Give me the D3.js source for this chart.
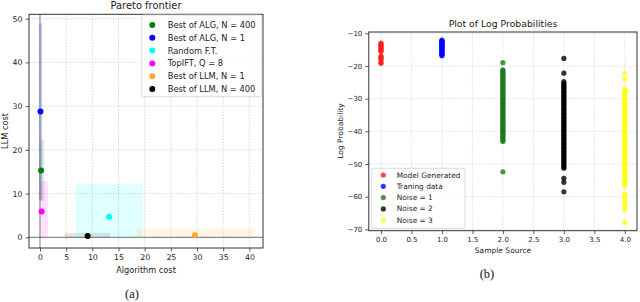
<!DOCTYPE html>
<html>
<head>
<meta charset="utf-8">
<script src="https://cdn.jsdelivr.net/npm/d3@7"></script>
<style>
  body { margin: 0; background: #fff; }
  svg { display: block; font-family: "DejaVu Sans", sans-serif; }
</style>
</head>
<body>
<svg id="chart" width="640" height="302"></svg>
<script>
// ---- (a) Pareto frontier ----
const paretoLabels = ["Best of ALG, N = 400", "Best of ALG, N = 1", "Random F.T.", "TopIFT, Q = 8", "Best of LLM, N = 1", "Best of LLM, N = 400"];
const paretoColors = ["#008000", "#0000ff", "#00ffff", "#ff00ff", "#ffa533", "#000000"];
const algCost = [0.2, 0.1, 13.2, 0.3, 29.6, 9.1];
const llmCost = [15.3, 28.8, 4.7, 5.9, 0.5, 0.3];
const algLo = [-0.2, -0.2, 6.8, -0.1, 18.4, 4.7];
const algHi = [0.8, 0.4, 19.6, 1.5, 41.0, 13.4];
const llmLo = [8.3, 8.5, 0, 0, 0, -0.2];
const llmHi = [22.4, 48.9, 12.3, 12.9, 2.05, 1.05];
const rectAlpha = [0.15, 0.22, 0.12, 0.12, 0.12, 0.1];
const paretoXTicks = [0, 5, 10, 15, 20, 25, 30, 35, 40];
const paretoYTicks = [0, 10, 20, 30, 40, 50];

// ---- (b) Log probabilities ----
const sourceLabels = ["Model Generated", "Traning data", "Noise = 1", "Noise = 2", "Noise = 3"];
const sourceColors = ["#ff1a1a", "#0000ff", "#1a7a1a", "#000000", "#ffff1a"];
const modelGenerated = [-13.0, -13.3, -13.6, -13.9, -14.2, -14.5, -14.9, -15.3, -15.6, -17.0, -17.3, -17.7, -18.1, -18.9, -19.2];
const trainingData = [-12.1, -12.3, -12.5, -12.8, -13.0, -13.2, -13.5, -13.7, -13.9, -14.2, -14.4, -14.6, -14.9, -15.1, -15.4, -15.6, -15.9, -16.1, -16.4, -16.6, -16.9];
const noise1 = [-19.0, -21.2, -21.6, -22.0, -22.3, -22.7, -23.1, -23.4, -23.8, -24.3, -24.6, -25.0, -25.4, -25.7, -26.1, -26.6, -26.9, -27.3, -27.7, -28.0, -28.5, -28.8, -29.2, -29.6, -30.0, -30.3, -30.8, -31.1, -31.5, -31.9, -32.2, -32.6, -33.0, -33.4, -33.8, -34.1, -34.5, -34.9, -35.3, -35.6, -36.0, -36.5, -36.8, -37.2, -37.6, -38.0, -38.3, -38.7, -39.1, -39.5, -39.8, -40.2, -40.6, -41.0, -41.4, -41.8, -42.3, -42.7, -43.1, -52.4];
const noise2 = [-17.7, -22.2, -24.8, -25.3, -25.7, -26.2, -26.6, -27.0, -27.5, -27.9, -28.3, -28.8, -29.2, -29.6, -30.1, -30.5, -30.9, -31.4, -31.8, -32.2, -32.7, -33.1, -33.5, -34.0, -34.4, -34.8, -35.3, -35.7, -36.1, -36.6, -37.0, -37.4, -37.9, -38.3, -38.7, -39.2, -39.6, -40.0, -40.5, -40.9, -41.3, -41.8, -42.2, -42.6, -43.1, -43.5, -43.9, -44.4, -44.8, -45.2, -45.7, -46.1, -46.5, -47.0, -47.4, -47.8, -48.3, -48.7, -49.1, -49.6, -50.0, -50.5, -50.9, -51.3, -54.4, -55.6, -58.5];
const noise3 = [-22.3, -24.0, -26.9, -27.3, -27.8, -28.2, -28.7, -29.1, -29.6, -30.0, -30.5, -30.9, -31.4, -31.8, -32.3, -32.7, -33.2, -33.6, -34.1, -34.5, -35.0, -35.4, -35.9, -36.3, -36.8, -37.2, -37.7, -38.1, -38.6, -39.0, -39.5, -39.9, -40.4, -40.8, -41.3, -41.7, -42.2, -42.6, -43.1, -43.5, -44.0, -44.4, -44.9, -45.3, -45.8, -46.2, -46.7, -47.1, -47.6, -48.0, -48.5, -48.9, -49.4, -49.8, -50.3, -50.7, -51.2, -51.6, -52.1, -52.5, -53.0, -53.4, -53.9, -54.3, -54.8, -55.2, -55.7, -56.1, -56.7, -59.2, -60.0, -61.0, -61.8, -62.6, -64.1, -67.9];
const sourceValues = [modelGenerated, trainingData, noise1, noise2, noise3];
const sourceXTicks = [0, 0.5, 1, 1.5, 2, 2.5, 3, 3.5, 4];
const sourceYTicks = [-10, -20, -30, -40, -50, -60, -70];

const svg = d3.select("#chart");

// ======== left panel ========
const xA = d3.scaleLinear().domain([-2.1, 42.6]).range([29, 263]);
const yA = d3.scaleLinear().domain([-2.44, 51.0]).range([248, 14.3]);
const gA = svg.append("g");

// grid
gA.append("g").selectAll("line").data(paretoXTicks).join("line")
  .attr("x1", d => xA(d)).attr("x2", d => xA(d))
  .attr("y1", yA.range()[0]).attr("y2", yA.range()[1])
  .attr("stroke", "#c8c8c8").attr("stroke-width", 0.7).attr("stroke-dasharray", "1.5,1.5");
gA.append("g").selectAll("line").data(paretoYTicks).join("line")
  .attr("y1", d => yA(d)).attr("y2", d => yA(d))
  .attr("x1", xA.range()[0]).attr("x2", xA.range()[1])
  .attr("stroke", "#c8c8c8").attr("stroke-width", 0.7).attr("stroke-dasharray", "1.5,1.5");

// range boxes
gA.append("g").selectAll("rect").data(d3.range(paretoLabels.length)).join("rect")
  .attr("x", i => xA(algLo[i]))
  .attr("y", i => yA(llmHi[i]))
  .attr("width", i => xA(algHi[i]) - xA(algLo[i]))
  .attr("height", i => yA(llmLo[i]) - yA(llmHi[i]))
  .attr("fill", i => paretoColors[i])
  .attr("fill-opacity", i => rectAlpha[i]);

// zero lines
gA.append("line").attr("x1", xA(0)).attr("x2", xA(0))
  .attr("y1", yA.range()[0]).attr("y2", yA.range()[1])
  .attr("stroke", "#777").attr("stroke-width", 0.9);
gA.append("line").attr("y1", yA(0)).attr("y2", yA(0))
  .attr("x1", xA.range()[0]).attr("x2", xA.range()[1])
  .attr("stroke", "#666").attr("stroke-width", 0.9);

// points
gA.append("g").selectAll("circle").data(d3.range(paretoLabels.length)).join("circle")
  .attr("cx", i => xA(algCost[i]))
  .attr("cy", i => yA(llmCost[i]))
  .attr("r", 3)
  .attr("fill", i => paretoColors[i]);

// axes
const axA = gA.append("g").attr("transform", `translate(0,${yA.range()[0]})`)
  .call(d3.axisBottom(xA).tickValues(paretoXTicks).tickSize(3.5).tickPadding(2.5).tickFormat(d3.format("d")));
const ayA = gA.append("g").attr("transform", `translate(${xA.range()[0]},0)`)
  .call(d3.axisLeft(yA).tickValues(paretoYTicks).tickSize(3.5).tickPadding(3).tickFormat(d3.format("d")));
[axA, ayA].forEach(a => {
  a.select(".domain").remove();
  a.selectAll("text").attr("font-size", 7.8).attr("fill", "#222").attr("font-family", "DejaVu Sans");
  a.selectAll("line").attr("stroke", "#333").attr("stroke-width", 0.8);
});
gA.append("rect")
  .attr("x", xA.range()[0]).attr("y", yA.range()[1])
  .attr("width", xA.range()[1] - xA.range()[0]).attr("height", yA.range()[0] - yA.range()[1])
  .attr("fill", "none").attr("stroke", "#333").attr("stroke-width", 1);

gA.append("text").attr("x", 146).attr("y", 9).attr("text-anchor", "middle")
  .attr("font-size", 9.9).attr("fill", "#222").text("Pareto frontier");
gA.append("text").attr("x", 146).attr("y", 273).attr("text-anchor", "middle")
  .attr("font-size", 8.2).attr("fill", "#222").text("Algorithm cost");
gA.append("text").attr("transform", "translate(8,131) rotate(-90)").attr("text-anchor", "middle")
  .attr("font-size", 8.2).attr("fill", "#222").text("LLM cost");

// legend
const legA = gA.append("g");
legA.append("rect").attr("x", 141.7).attr("y", 15).attr("width", 120).attr("height", 81.7)
  .attr("rx", 2).attr("fill", "#fff").attr("fill-opacity", 0.85).attr("stroke", "#d0d0d0").attr("stroke-width", 0.8);
paretoLabels.forEach((lab, i) => {
  const y = 25 + i * 12.8;
  legA.append("circle").attr("cx", 152.3).attr("cy", y).attr("r", 3).attr("fill", paretoColors[i]);
  legA.append("text").attr("x", 167.7).attr("y", y).attr("dy", "0.35em")
    .attr("font-size", 8.3).attr("fill", "#222").text(lab);
});

svg.append("text").attr("x", 132).attr("y", 298).attr("text-anchor", "middle")
  .attr("font-family", "Liberation Serif, serif").attr("font-size", 12.5).attr("fill", "#111").text("(a)");

// ======== right panel ========
const xB = d3.scaleLinear().domain([-0.2, 4.2]).range([368.8, 637]);
const yB = d3.scaleLinear().domain([-70.42, -9.6]).range([230.7, 32]);
const gB = svg.append("g");

gB.append("g").selectAll("line").data(sourceXTicks).join("line")
  .attr("x1", d => xB(d)).attr("x2", d => xB(d))
  .attr("y1", yB.range()[0]).attr("y2", yB.range()[1])
  .attr("stroke", "#d8d8d8").attr("stroke-width", 0.7).attr("stroke-dasharray", "1.5,1");
gB.append("g").selectAll("line").data(sourceYTicks).join("line")
  .attr("y1", d => yB(d)).attr("y2", d => yB(d))
  .attr("x1", xB.range()[0]).attr("x2", xB.range()[1])
  .attr("stroke", "#d8d8d8").attr("stroke-width", 0.7).attr("stroke-dasharray", "1.5,1");

sourceValues.forEach((vals, i) => {
  gB.append("g").selectAll("circle").data(vals).join("circle")
    .attr("cx", xB(i))
    .attr("cy", d => yB(d))
    .attr("r", 2.6)
    .attr("fill", sourceColors[i])
    .attr("fill-opacity", 0.8);
});

const axB = gB.append("g").attr("transform", `translate(0,${yB.range()[0]})`)
  .call(d3.axisBottom(xB).tickValues(sourceXTicks).tickSize(3.5).tickPadding(2.5).tickFormat(d3.format(".1f")));
const ayB = gB.append("g").attr("transform", `translate(${xB.range()[0]},0)`)
  .call(d3.axisLeft(yB).tickValues(sourceYTicks).tickSize(3.5).tickPadding(3).tickFormat(d3.format("d")));
[axB, ayB].forEach(a => {
  a.select(".domain").remove();
  a.selectAll("text").attr("font-size", 7).attr("fill", "#222").attr("font-family", "DejaVu Sans");
  a.selectAll("line").attr("stroke", "#333").attr("stroke-width", 0.8);
});
gB.append("rect")
  .attr("x", xB.range()[0]).attr("y", yB.range()[1])
  .attr("width", xB.range()[1] - xB.range()[0]).attr("height", yB.range()[0] - yB.range()[1])
  .attr("fill", "none").attr("stroke", "#333").attr("stroke-width", 1);

gB.append("text").attr("x", 503).attr("y", 27).attr("text-anchor", "middle")
  .attr("font-size", 9.3).attr("fill", "#222").text("Plot of Log Probabilities");
gB.append("text").attr("x", 503).attr("y", 253).attr("text-anchor", "middle")
  .attr("font-size", 7.5).attr("fill", "#222").text("Sample Source");
gB.append("text").attr("transform", "translate(343,131) rotate(-90)").attr("text-anchor", "middle")
  .attr("font-size", 7.5).attr("fill", "#222").text("Log Probability");

const legB = gB.append("g");
legB.append("rect").attr("x", 371.7).attr("y", 168.3).attr("width", 93.3).attr("height", 60)
  .attr("rx", 2).attr("fill", "#fff").attr("fill-opacity", 0.85).attr("stroke", "#d0d0d0").attr("stroke-width", 0.8);
sourceLabels.forEach((lab, i) => {
  const y = 175 + i * 11.3;
  legB.append("circle").attr("cx", 383.3).attr("cy", y).attr("r", 2.6)
    .attr("fill", sourceColors[i]).attr("fill-opacity", 0.8);
  legB.append("text").attr("x", 396.7).attr("y", y).attr("dy", "0.35em")
    .attr("font-size", 7.4).attr("fill", "#222").text(lab);
});

svg.append("text").attr("x", 487).attr("y", 278).attr("text-anchor", "middle")
  .attr("font-family", "Liberation Serif, serif").attr("font-size", 12.5).attr("fill", "#111").text("(b)");
</script>
</body>
</html>
